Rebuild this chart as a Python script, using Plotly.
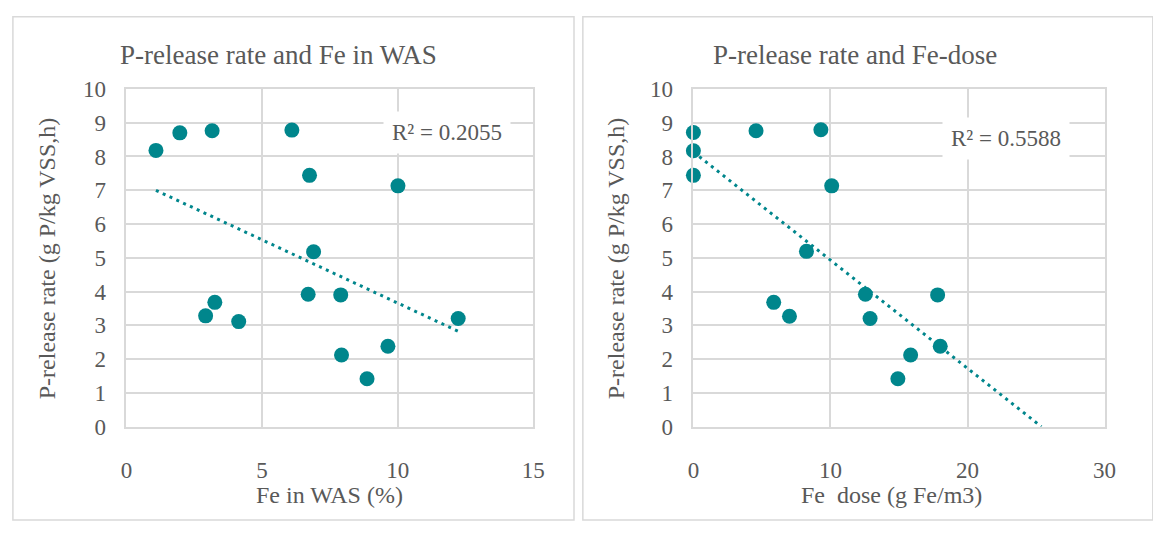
import numpy as np
import plotly.graph_objects as go

# ---- data ----
p_release = [8.18, 8.70, 8.76, 8.78, 7.44, 7.13, 5.18, 3.92, 3.90, 3.68, 3.28, 3.11, 3.20, 2.38, 2.12, 1.42]
fe_was = [1.09, 1.97, 3.16, 6.10, 6.75, 10.01, 6.90, 6.70, 7.90, 3.26, 2.92, 4.14, 12.23, 9.64, 7.93, 8.87]
fe_dose = [0.0, 0.0, 4.57, 9.30, 0.0, 10.09, 8.25, 12.55, 17.82, 5.86, 7.01, None, 12.89, 18.01, 15.85, 14.92]
p_release_dose = [8.71, 8.17, 8.76, 8.79, 7.44, 7.13, 5.19, 3.92, 3.90, 3.68, 3.27, None, 3.20, 2.38, 2.12, 1.42]

titles = ["P-release rate and Fe in WAS", "P-release rate and Fe-dose"]
x_titles = ["Fe in WAS (%)", "Fe  dose (g Fe/m3)"]
y_title = "P-release rate (g P/kg VSS,h)"
r2_labels = ["R² = 0.2055", "R² = 0.5588"]

W, H = 1153, 534
TEAL = "#00868C"
GRID = "#d9d9d9"
TXT = "#595959"
FONT = "Liberation Serif"

def px(x):
    return x / W

def py(y):
    return 1 - y / H

fig = go.Figure()

fig.add_trace(go.Scatter(x=fe_was, y=p_release, mode="markers",
                         marker=dict(size=15, color=TEAL), cliponaxis=False,
                         xaxis="x", yaxis="y", showlegend=False))
xa = np.array(fe_was, dtype=float)
ya = np.array(p_release, dtype=float)
m1, b1 = np.polyfit(xa, ya, 1)
tx1 = np.array([xa.min(), xa.max()])
fig.add_trace(go.Scatter(x=tx1, y=m1 * tx1 + b1, mode="lines",
                         line=dict(color=TEAL, width=3, dash="3px,4.5px"),
                         xaxis="x", yaxis="y", showlegend=False, hoverinfo="skip"))

xd = np.array([np.nan if v is None else v for v in fe_dose], dtype=float)
yd = np.array([np.nan if v is None else v for v in p_release_dose], dtype=float)
fig.add_trace(go.Scatter(x=xd, y=yd, mode="markers",
                         marker=dict(size=15, color=TEAL), cliponaxis=False,
                         xaxis="x2", yaxis="y2", showlegend=False))
ok = ~np.isnan(xd) & ~np.isnan(yd)
m2, b2 = np.polyfit(xd[ok], yd[ok], 1)
tx2 = np.array([0.0, -b2 / m2])
fig.add_trace(go.Scatter(x=tx2, y=m2 * tx2 + b2, mode="lines",
                         line=dict(color=TEAL, width=3, dash="3px,4.5px"),
                         xaxis="x2", yaxis="y2", showlegend=False, hoverinfo="skip"))

axis_common = dict(showgrid=True, gridcolor=GRID, gridwidth=1.5, zeroline=False,
                   showline=True, linecolor=GRID, linewidth=1.5, mirror=True,
                   ticks="", tickfont=dict(family=FONT, size=23, color=TXT),
                   fixedrange=True)

ydom = [py(435), py(80.7)]
fig.update_layout(
    width=W, height=H, margin=dict(l=0, r=0, t=0, b=0),
    paper_bgcolor="white", plot_bgcolor="white",
    xaxis=dict(domain=[px(122.3), px(535.7)], range=[0, 15], dtick=5, anchor="y",
               ticklabelstandoff=22, **axis_common),
    yaxis=dict(domain=ydom, range=[0, 10], dtick=1, anchor="x",
               ticklabelstandoff=14, **axis_common),
    xaxis2=dict(domain=[px(698.3), px(1116)], range=[0, 30], dtick=10, anchor="y2",
                ticklabelstandoff=22, **axis_common),
    yaxis2=dict(domain=ydom, range=[0, 10], dtick=1, anchor="x2",
                ticklabelstandoff=14, **axis_common),
)

fig.add_shape(type="rect", xref="paper", yref="paper", x0=px(7), x1=px(577), y0=py(533), y1=py(5),
              line=dict(color=GRID, width=1.5), layer="below")
fig.add_shape(type="rect", xref="paper", yref="paper", x0=px(586), x1=px(1165), y0=py(533), y1=py(5),
              line=dict(color=GRID, width=1.5), layer="below")

def ann(text, x, y, size, angle=0, bg=None):
    d = dict(text=text, x=px(x), y=py(y), xref="paper", yref="paper",
             xanchor="center", yanchor="middle", showarrow=False, textangle=angle,
             font=dict(family=FONT, size=size, color=TXT))
    if bg:
        d.update(bgcolor=bg, borderpad=8)
    fig.add_annotation(**d)

ann(titles[0], 277, 45, 27)
ann(titles[1], 862, 45, 27)
ann(x_titles[0], 329, 507, 24)
ann(x_titles[1], 900, 507, 24)
ann(y_title, 42, 258, 24, angle=-90)
ann(y_title, 620, 258, 24, angle=-90)
ann(r2_labels[0], 448, 126, 23, bg="white")
ann(r2_labels[1], 1016, 133, 23, bg="white")

fig.write_html("out.html", config={"displayModeBar": False},
               post_script="document.body.style.margin='0';document.body.style.overflow='hidden';")
